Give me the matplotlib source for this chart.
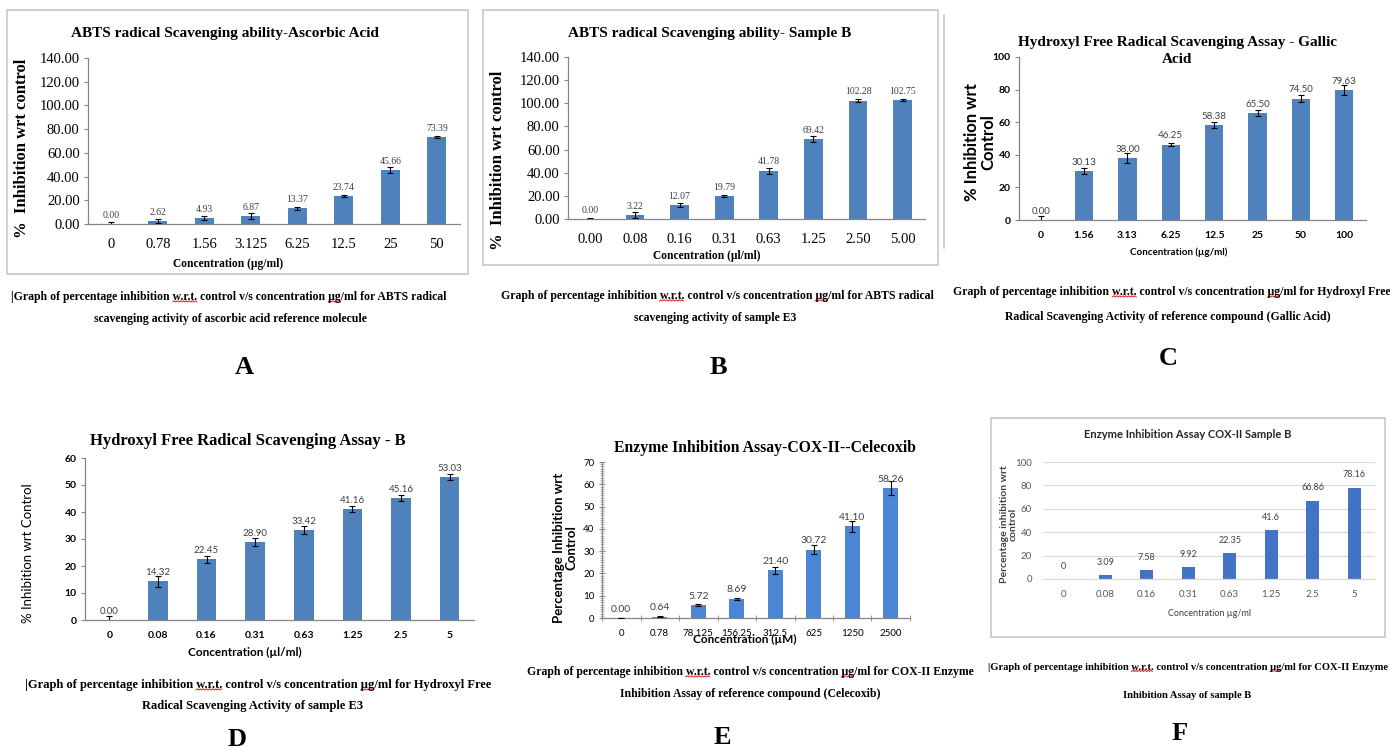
import matplotlib
matplotlib.use("Agg")
import matplotlib.pyplot as plt
from matplotlib import font_manager
from matplotlib.patches import Rectangle
from matplotlib.lines import Line2D
from matplotlib.transforms import IdentityTransform
import numpy as np

# ---- data ----
conc_a = ["0", "0.78", "1.56", "3.125", "6.25", "12.5", "25", "50"]
inh_a = [0.00, 2.62, 4.93, 6.87, 13.37, 23.74, 45.66, 73.39]
err_a = [1.5, 2.0, 1.8, 2.5, 1.2, 1.0, 2.5, 0.8]

conc_b = ["0.00", "0.08", "0.16", "0.31", "0.63", "1.25", "2.50", "5.00"]
inh_b = [0.00, 3.22, 12.07, 19.79, 41.78, 69.42, 102.28, 102.75]
err_b = [0.8, 2.5, 1.5, 1.0, 2.5, 2.5, 1.0, 1.2]

conc_c = ["0", "1.56", "3.13", "6.25", "12.5", "25", "50", "100"]
inh_c = [0.00, 30.13, 38.00, 46.25, 58.38, 65.50, 74.50, 79.63]
err_c = [2.5, 1.8, 3.0, 0.8, 1.8, 2.0, 2.2, 3.0]

conc_d = ["0", "0.08", "0.16", "0.31", "0.63", "1.25", "2.5", "5"]
inh_d = [0.00, 14.32, 22.45, 28.90, 33.42, 41.16, 45.16, 53.03]
err_d = [1.5, 2.0, 1.3, 1.5, 1.5, 1.0, 1.0, 1.0]

conc_e = ["0", "0.78", "78.125", "156.25", "312.5", "625", "1250", "2500"]
inh_e = [0.00, 0.64, 5.72, 8.69, 21.40, 30.72, 41.10, 58.26]
err_e = [0.2, 0.3, 0.5, 0.5, 1.5, 2.0, 2.5, 3.0]

conc_f = ["0", "0.08", "0.16", "0.31", "0.63", "1.25", "2.5", "5"]
inh_f = [0, 3.09, 7.58, 9.92, 22.35, 41.6, 66.86, 78.16]

names = {f.name for f in font_manager.fontManager.ttflist}
SERIF = "Liberation Serif"
SANS = "Lato" if "Lato" in names else "DejaVu Sans"
NARROW = "Liberation Sans Narrow" if "Liberation Sans Narrow" in names else SANS

W, H = 1390, 750
fig = plt.figure(figsize=(W / 100, H / 100), dpi=100)
fig.patch.set_facecolor("white")


def box(l, t, r, b):
    return fig.add_axes([l / W, 1 - b / H, (r - l) / W, (b - t) / H])


def ftext(x, y, s, **kw):
    kw.setdefault("ha", "center")
    kw.setdefault("va", "center")
    return fig.text(x / W, 1 - y / H, s, **kw)


def frame(l, t, r, b):
    fig.add_artist(Rectangle((l / W, 1 - b / H), (r - l) / W, (b - t) / H,
                             transform=fig.transFigure, fill=False,
                             edgecolor="#c8c8c8", lw=1.2))


def bars(ax, labels, vals, errs, color, width, ymax, ystep, fmt, tfont,
         tweight, vfont, vsize, tsize, lab_fmt="{:.2f}", pad=3, xpad=8):
    x = np.arange(len(vals))
    ax.bar(x, vals, width=width, color=color, zorder=2)
    if errs is not None:
        ax.errorbar(x, vals, yerr=errs, fmt="none", ecolor="black",
                    elinewidth=0.8, capsize=2, capthick=0.8, zorder=3)
    for xi, v in zip(x, vals):
        ax.annotate(lab_fmt.format(v), (xi, v), xytext=(0, pad),
                    textcoords="offset points", ha="center", va="bottom",
                    fontsize=vsize, family=vfont, color="#404040")
    ax.set_xlim(-0.5, len(vals) - 0.5)
    ax.set_ylim(0, ymax)
    yt = np.arange(0, ymax + 0.01, ystep)
    ax.set_yticks(yt)
    ax.set_yticklabels([fmt.format(t) for t in yt], family=tfont,
                       fontweight=tweight, fontsize=tsize)
    ax.set_xticks(x)
    ax.set_xticklabels(labels, family=tfont, fontweight=tweight, fontsize=tsize)
    ax.tick_params(axis="x", length=0, pad=xpad)
    ax.tick_params(axis="y", length=3, width=0.8, color="#868686", pad=3)
    for s in ["top", "right"]:
        ax.spines[s].set_visible(False)
    for s in ["left", "bottom"]:
        ax.spines[s].set_color("#868686")
        ax.spines[s].set_linewidth(0.9)
    ax.set_facecolor("none")


# ---- A ----
frame(7, 10, 468, 274)
axA = box(88, 58, 460, 224)
bars(axA, conc_a, inh_a, err_a, "#4F81BD", 0.4, 140, 20, "{:.2f}",
     SERIF, "normal", SERIF, 7, 10.5, xpad=10)
ftext(225, 33, "ABTS radical Scavenging ability-Ascorbic Acid", family=SERIF,
      fontweight="bold", fontsize=11)
ftext(22, 148, "%  Inhibition wrt control", family=SERIF, fontweight="bold",
      fontsize=12, rotation=90)
ftext(228, 264, "Concentration (\u00b5g/ml)", family=SERIF, fontweight="bold",
      fontsize=8.3)

# ---- B ----
frame(483, 10, 938, 265)
axB = box(568, 57, 925, 219)
bars(axB, conc_b, inh_b, err_b, "#4F81BD", 0.42, 140, 20, "{:.2f}",
     SERIF, "normal", SERIF, 7, 10.5, xpad=10)
ftext(710, 33, "ABTS radical Scavenging ability- Sample B", family=SERIF,
      fontweight="bold", fontsize=11)
ftext(498, 160, "%  Inhibition wrt control", family=SERIF, fontweight="bold",
      fontsize=12, rotation=90)
ftext(707, 256, "Concentration (\u00b5l/ml)", family=SERIF, fontweight="bold",
      fontsize=8.3)

# ---- C ----
fig.add_artist(Line2D([944 / W, 944 / W], [1 - 15 / H, 1 - 248 / H],
                      transform=fig.transFigure, color="#c8c8c8", lw=1.2))
axC = box(1019, 57, 1366, 220)
bars(axC, conc_c, inh_c, err_c, "#4F81BD", 0.42, 100, 20, "{:.0f}",
     SANS, "bold", SANS, 7, 7.5)
ftext(1177, 51, "Hydroxyl Free Radical Scavenging Assay - Gallic\nAcid",
      family=SERIF, fontweight="bold", fontsize=11, linespacing=1.45)
ftext(980, 142, "% Inhibition wrt\nControl", family=SANS, fontweight="bold",
      fontsize=12, rotation=90, linespacing=1.0)
ftext(1179, 252, "Concentration (\u00b5g/ml)", family=SANS, fontweight="bold",
      fontsize=7)

# ---- D ----
axD = box(85, 458, 474, 620)
bars(axD, conc_d, inh_d, err_d, "#4F81BD", 0.4, 60, 10, "{:.0f}",
     SANS, "bold", SANS, 7, 7.5)
ftext(248, 441, "Hydroxyl Free Radical Scavenging Assay - B", family=SERIF,
      fontweight="bold", fontsize=12)
ftext(28, 553, "% Inhibition wrt Control", family=SANS, fontsize=9.5,
      rotation=90)
ftext(245, 652, "Concentration (\u00b5l/ml)", family=SANS, fontweight="bold",
      fontsize=8.5)

# ---- E ----
axE = box(602, 462, 910, 618)
bars(axE, conc_e, inh_e, err_e, "#4A86D4", 0.4, 70, 10, "{:.0f}",
     SANS, "normal", SANS, 7.5, 7)
axE.yaxis.set_minor_locator(matplotlib.ticker.MultipleLocator(1))
axE.tick_params(axis="y", which="both", direction="inout", length=5)
axE.tick_params(axis="y", which="minor", length=3, width=0.5, color="#a0a0a0")
axE.xaxis.set_minor_locator(matplotlib.ticker.FixedLocator(np.arange(-0.5, 8, 1)))
axE.tick_params(axis="x", which="minor", direction="inout", length=5,
                color="#868686")
ftext(765, 448, "Enzyme Inhibition Assay-COX-II--Celecoxib", family=SERIF,
      fontweight="bold", fontsize=11.3)
ftext(565, 548, "Percentage Inhibition wrt\nControl", family=SANS,
      fontweight="bold", fontsize=9.5, rotation=90, linespacing=1.0)
ftext(745, 639, "Concentration (\u00b5M)", family=SANS, fontweight="bold",
      fontsize=8.5)

# ---- F ----
frame(991, 418, 1385, 637)
axF = box(1043, 462, 1375, 579)
bars(axF, conc_f, inh_f, None, "#4472C4", 0.32, 100, 20, "{:.0f}",
     NARROW, "normal", NARROW, 6.5, 7, lab_fmt="{:g}", pad=6)
axF.grid(axis="y", color="#d9d9d9", lw=0.8, zorder=0)
axF.spines["left"].set_visible(False)
axF.spines["bottom"].set_color("#d9d9d9")
axF.tick_params(axis="y", length=0, pad=8)
for lab in axF.get_xticklabels() + axF.get_yticklabels():
    lab.set_color("#595959")
ftext(1188, 435, "Enzyme Inhibition Assay COX-II Sample B", family=NARROW,
      fontweight="bold", fontsize=8, color="#262626")
ftext(1009, 524, "Percentage inhibition wrt\ncontrol", family=SANS,
      fontweight="bold", fontsize=7.5, rotation=90, linespacing=1.0,
      color="#404040")
ftext(1210, 613, "Concentration \u00b5g/ml", family=NARROW, fontsize=6.5,
      color="#404040")

# ---- captions ----
cap = dict(family=SERIF, fontweight="bold", fontsize=8.5)
first_lines = []
first_lines.append(ftext(229, 297, "|Graph of percentage inhibition w.r.t. control v/s concentration \u00b5g/ml for ABTS radical", **cap))
ftext(230, 319, "scavenging activity of ascorbic acid reference molecule", **cap)
first_lines.append(ftext(717, 296, "Graph of percentage inhibition w.r.t. control v/s concentration \u00b5g/ml for ABTS radical", **cap))
ftext(715, 318, "scavenging activity of sample E3", **cap)
first_lines.append(ftext(1172, 292, "Graph of percentage inhibition w.r.t. control v/s concentration \u00b5g/ml for Hydroxyl Free", **cap))
ftext(1168, 317, "Radical Scavenging Activity of reference compound (Gallic Acid)", **cap)
first_lines.append(ftext(258, 685, "|Graph of percentage inhibition w.r.t. control v/s concentration \u00b5g/ml for Hydroxyl Free",
                         family=SERIF, fontweight="bold", fontsize=9))
ftext(253, 706, "Radical Scavenging Activity of sample E3", family=SERIF,
      fontweight="bold", fontsize=9)
first_lines.append(ftext(750, 672, "Graph of percentage inhibition w.r.t. control v/s concentration \u00b5g/ml for COX-II Enzyme", **cap))
ftext(750, 694, "Inhibition Assay of reference compound (Celecoxib)", **cap)
first_lines.append(ftext(1188, 668, "|Graph of percentage inhibition w.r.t. control v/s concentration \u00b5g/ml for COX-II Enzyme",
                         family=SERIF, fontweight="bold", fontsize=7.6))
ftext(1187, 695, "Inhibition Assay of sample B", family=SERIF,
      fontweight="bold", fontsize=7.6)

# red spell-check squiggles under "w.r.t." and "ug"
renderer = fig.canvas.get_renderer()


def text_width(s, t):
    tmp = fig.text(0, 0, s, fontproperties=t.get_fontproperties())
    w = tmp.get_window_extent(renderer).width
    tmp.remove()
    return w


for t in first_lines:
    full = t.get_text()
    bb = t.get_window_extent(renderer)
    for word in ["w.r.t.", "\u00b5g"]:
        end = full.index(word) + len(word)
        x1 = bb.x0 + text_width(full[:end], t)
        x0 = x1 - text_width(word, t)
        xs = np.arange(x0, x1, 1.5)
        ys = bb.y0 + 1 + (np.arange(len(xs)) % 2) * 1.2
        fig.add_artist(Line2D(xs, ys, transform=IdentityTransform(),
                              color="#e02020", lw=0.7))

letter = dict(family=SERIF, fontweight="bold", fontsize=19)
for x, y, s in [(244, 368, "A"), (718, 368, "B"), (1168, 358, "C"),
                (237, 739, "D"), (722, 737, "E"), (1180, 733, "F")]:
    ftext(x, y, s, **letter)

fig.savefig("out.png", dpi=100)
